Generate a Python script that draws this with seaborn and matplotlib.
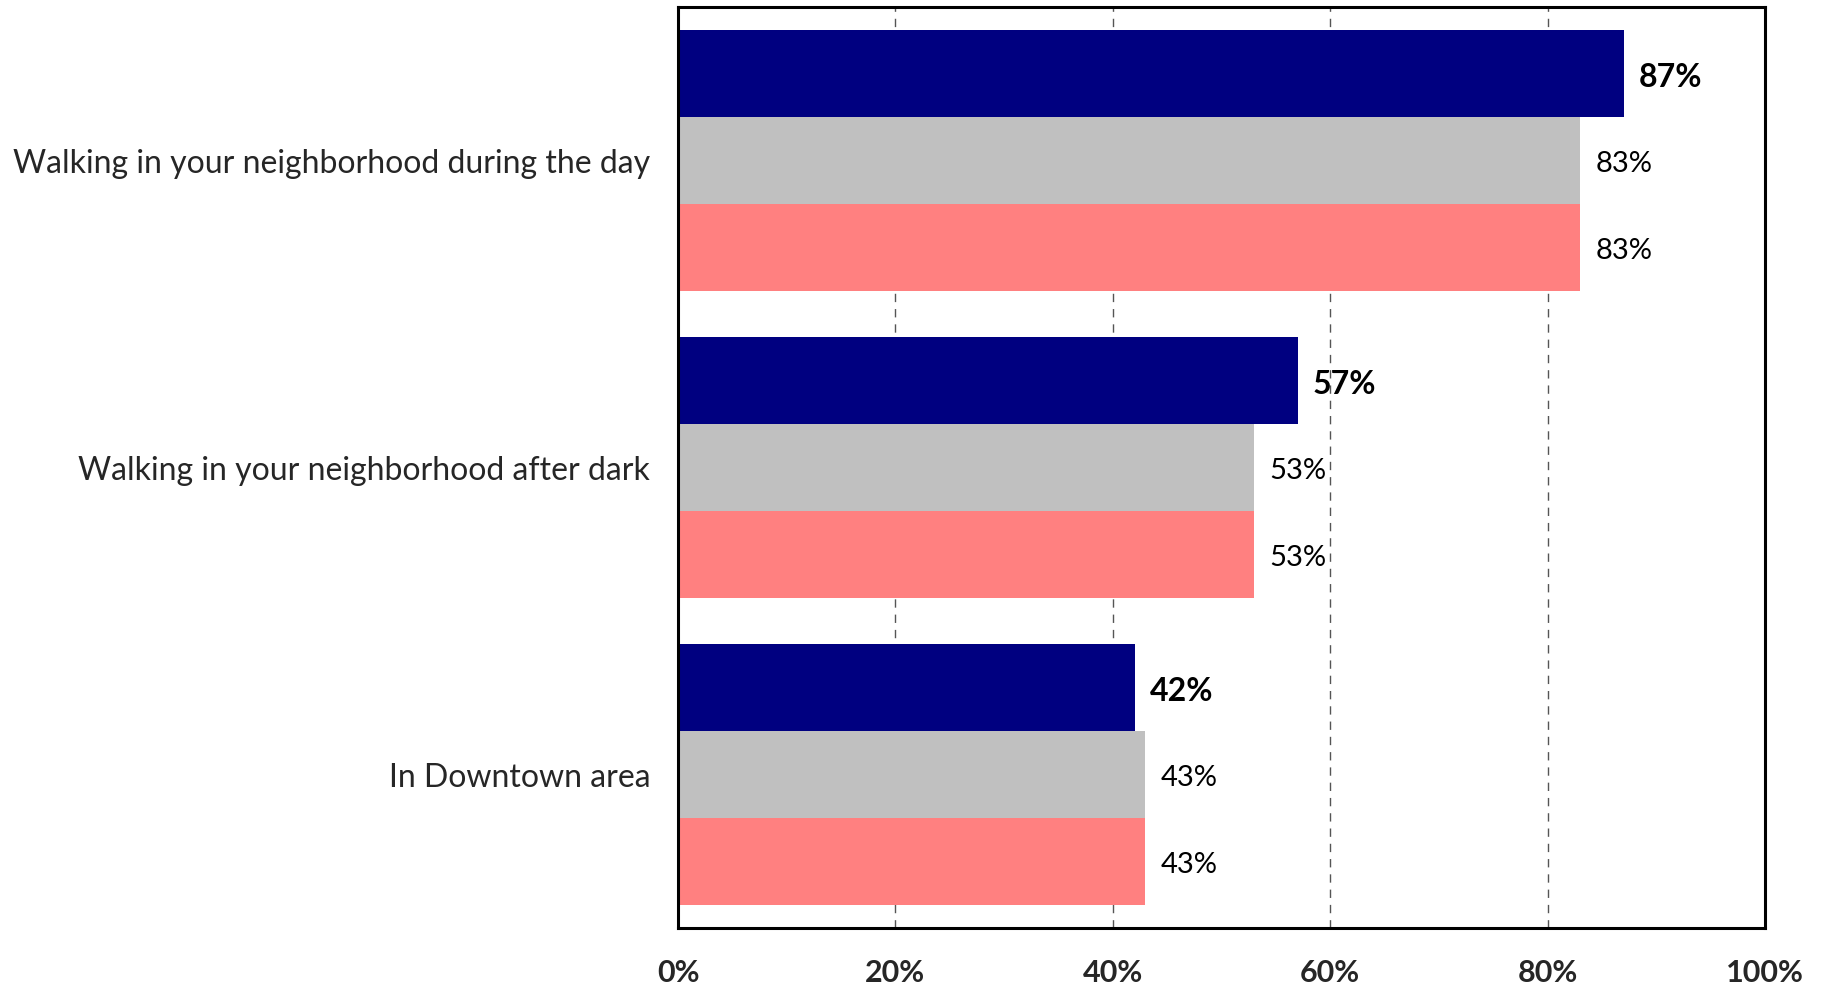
import matplotlib
matplotlib.use("Agg")
import matplotlib.pyplot as plt
import seaborn as sns
import pandas as pd

# Survey items and the share of respondents feeling safe, per series
categories = [
    "Walking in your neighborhood during the day",
    "Walking in your neighborhood after dark",
    "In Downtown area",
]
series_names = ["Current", "Comparison A", "Comparison B"]
current = [87, 57, 42]
comparison_a = [83, 53, 43]
comparison_b = [83, 53, 43]
xtick_values = [0, 20, 40, 60, 80, 100]
xtick_labels = ["0%", "20%", "40%", "60%", "80%", "100%"]
colors = ["#000080", "#C0C0C0", "#FF8080"]

rows = []
for name, vals in zip(series_names, [current, comparison_a, comparison_b]):
    for cat, v in zip(categories, vals):
        rows.append({"item": cat, "series": name, "value": v})
df = pd.DataFrame(rows)

sns.set_theme(style="white")
plt.rcParams["font.family"] = ["Lato", "DejaVu Sans"]

fig = plt.figure(figsize=(18.26, 9.85), dpi=100)
ax = fig.add_axes([678 / 1826, 1 - 928 / 985, (1765 - 678) / 1826, (928 - 7) / 985])

sns.barplot(
    data=df, x="value", y="item", hue="series", order=categories,
    hue_order=series_names, palette=colors, orient="h",
    width=0.847, gap=0, saturation=1, errorbar=None, legend=False, ax=ax,
    linewidth=0,
)

ax.set_xlim(0, 100)
ax.set_ylim(2.5, -0.5)
ax.set_xticks(xtick_values)
ax.set_xticklabels(xtick_labels, fontsize=22, fontweight="bold")
ax.tick_params(axis="x", length=0, pad=22)
ax.tick_params(axis="y", length=0, pad=20, labelsize=23)
ax.set_xlabel("")
ax.set_ylabel("")

# Dashed vertical gridlines behind the bars
ax.set_axisbelow(True)
for xv in xtick_values[1:-1]:
    ax.axvline(xv, color="#555555", linewidth=1.0, linestyle=(0, (6, 5)), zorder=0)

for sp in ax.spines.values():
    sp.set_visible(True)
    sp.set_color("black")
    sp.set_linewidth(2.2)

for i, cont in enumerate(ax.containers):
    anns = ax.bar_label(
        cont, labels=[f"{v:.0f}%" for v in cont.datavalues], padding=11,
        fontsize=23 if i == 0 else 21, fontweight="bold" if i == 0 else "normal",
        color="black",
    )
    for a in anns:
        a.xyann = (11, -2.5)

fig.savefig("out.png", dpi=100)
